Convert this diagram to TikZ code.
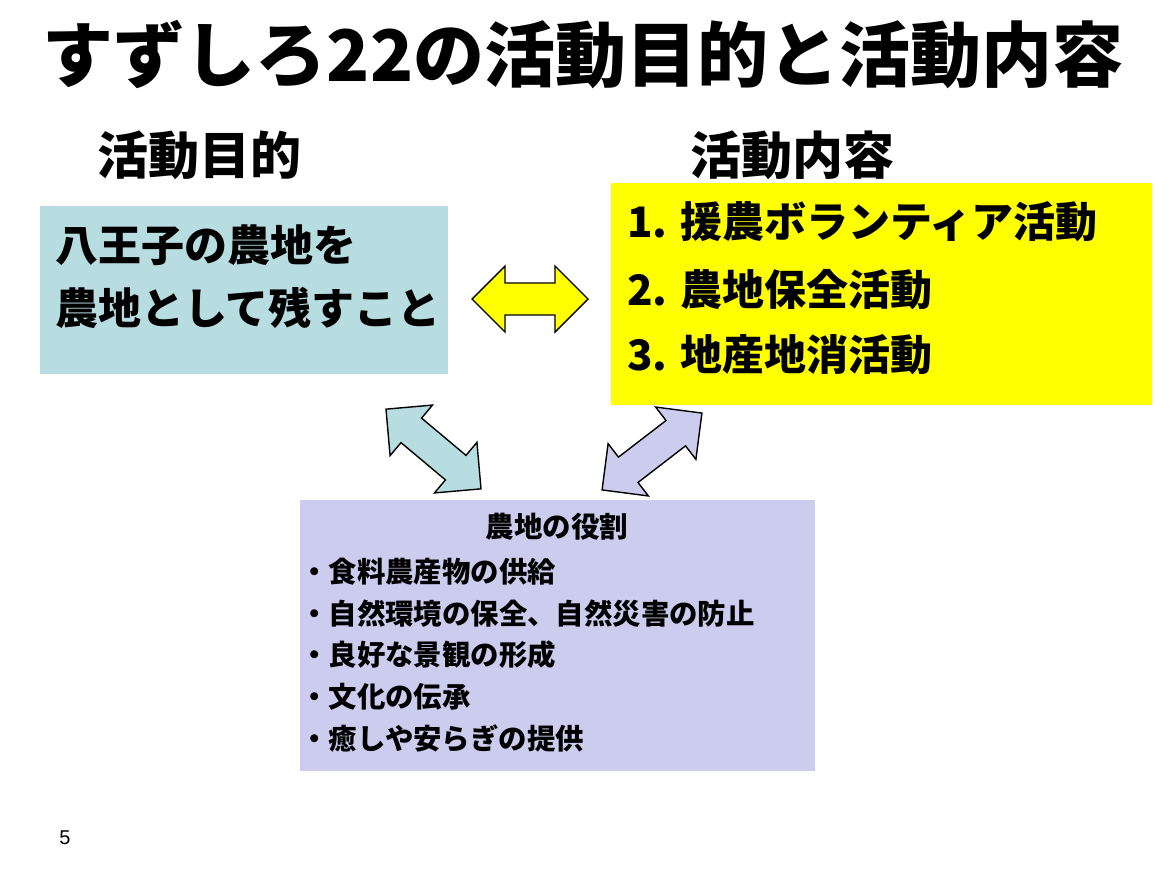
\documentclass[tikz,border=0pt]{standalone}
\usepackage{fontspec}
\newfontfamily\jp{Noto Sans CJK JP}
\newfontfamily\pagefont{Liberation Sans}
\definecolor{goalcol}{RGB}{183,221,225}
\definecolor{workcol}{RGB}{255,255,0}
\definecolor{rolecol}{RGB}{204,204,238}

\tikzset{
  arrowline/.style={draw=black, line width=1.4pt, line join=miter},
  jptext/.style={font=\jp\bfseries, inner sep=0pt}
}

% double block arrow: centre x, centre y, angle, length, fill
\newcommand\bothway[5]{%
  \begin{scope}[shift={(#1,#2)}, rotate=#3]
    \draw[arrowline, fill=#5] (-#4/2,0) -- ++(33,-33) -- ++(0,17) -- (#4/2-33,-16)
      -- ++(0,-17) -- (#4/2,0) -- ++(-33,33) -- ++(0,-17) -- (-#4/2+33,16)
      -- ++(0,17) -- cycle;
  \end{scope}}

\begin{document}
\begin{tikzpicture}[x=1pt, y=-1pt]
  \useasboundingbox[fill=white] (0,0) rectangle (1172,878);

  \node[jptext, font=\jp\bfseries\fontsize{71}{71}\selectfont] (title) at (583,55)
    {すずしろ22の活動目的と活動内容};

  \node[jptext, anchor=west, font=\jp\bfseries\fontsize{51}{51}\selectfont] (goalhead) at (97,155) {活動目的};
  \node[jptext, anchor=west, font=\jp\bfseries\fontsize{51}{51}\selectfont] (workhead) at (690,155) {活動内容};

  % boxes
  \fill[goalcol] (40,206) rectangle (448,374);
  \node[jptext, anchor=west, font=\jp\bfseries\fontsize{43}{43}\selectfont] (goal1) at (55,245) {八王子の農地を};
  \node[jptext, anchor=west, font=\jp\bfseries\fontsize{43}{43}\selectfont] (goal2) at (55,308) {農地として残すこと};

  \fill[workcol] (611,183) rectangle (1152,405);
  \node[jptext, anchor=west, font=\jp\bfseries\fontsize{42}{42}\selectfont] (work1) at (627,222) {1. 援農ボランティア活動};
  \node[jptext, anchor=west, font=\jp\bfseries\fontsize{42}{42}\selectfont] (work2) at (627,290) {2. 農地保全活動};
  \node[jptext, anchor=west, font=\jp\bfseries\fontsize{42}{42}\selectfont] (work3) at (627,355) {3. 地産地消活動};

  \fill[rolecol] (300,500) rectangle (815,771);
  \node[jptext, font=\jp\bfseries\fontsize{28.5}{28.5}\selectfont] (rolehead) at (557,527) {農地の役割};
  \foreach \item [count=\i] in {食料農産物の供給, 自然環境の保全、自然災害の防止,
      良好な景観の形成, 文化の伝承, 癒しや安らぎの提供}
    \node[jptext, anchor=west, font=\jp\bfseries\fontsize{28.4}{28.4}\selectfont] (role\i)
      at (300,{572+41.5*(\i-1)}) {・\item};

  % arrows
  \bothway{530}{299}{0}{116}{workcol}
  \bothway{433.5}{449}{-40}{124}{goalcol}
  \bothway{652}{451.5}{37.6}{126}{rolecol}

  \node[font=\pagefont\fontsize{20}{20}\selectfont, inner sep=0pt] (page) at (65,838) {5};
\end{tikzpicture}
\end{document}
